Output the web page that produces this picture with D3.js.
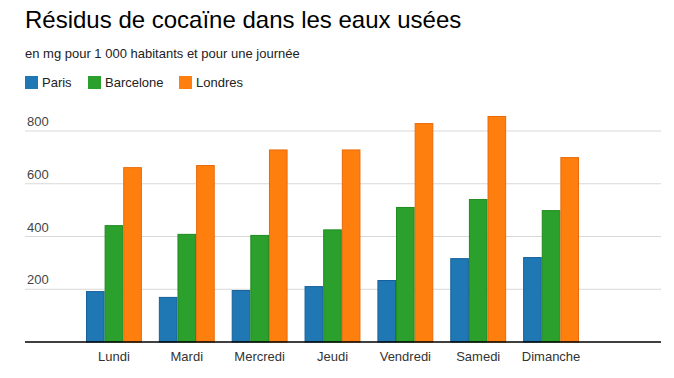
<!DOCTYPE html>
<html>
<head>
<meta charset="utf-8">
<script src="https://cdn.jsdelivr.net/npm/d3@7"></script>
<style>
  body { margin: 0; background: #fff; }
  text { font-family: Arial, "Liberation Sans", sans-serif; }
</style>
</head>
<body>
<div id="chart"></div>
<script>
// data
const days = ['Lundi', 'Mardi', 'Mercredi', 'Jeudi', 'Vendredi', 'Samedi', 'Dimanche'];
const cities = ['Paris', 'Barcelone', 'Londres'];
const paris = [193, 171, 197, 212, 235, 318, 322];
const barcelone = [443, 410, 406, 427, 512, 542, 500];
const londres = [663, 671, 730, 730, 830, 857, 701];
const yTicks = [200, 400, 600, 800];

const colors = ['#1f77b4', '#2ca02c', '#ff7f0e'];
const strokes = ['#16609a', '#1f8a1f', '#e8690a'];
const series = [paris, barcelone, londres];

const W = 674, H = 378;
const svg = d3.select('#chart').append('svg')
  .attr('width', W)
  .attr('height', H);

svg.append('text')
  .attr('x', 25).attr('y', 28)
  .attr('font-size', 24)
  .attr('fill', '#000')
  .text('Résidus de cocaïne dans les eaux usées');

svg.append('text')
  .attr('x', 25).attr('y', 58)
  .attr('font-size', 13)
  .attr('fill', '#222')
  .text('en mg pour 1 000 habitants et pour une journée');

// legend
const legendX = [25, 88, 179];
const lg = svg.selectAll('g.legend')
  .data(cities)
  .enter()
  .append('g')
  .attr('class', 'legend')
  .attr('transform', (d, i) => `translate(${legendX[i]}, 76)`);
lg.append('rect')
  .attr('width', 13).attr('height', 13)
  .attr('fill', (d, i) => colors[i]);
lg.append('text')
  .attr('x', 17).attr('y', 11)
  .attr('font-size', 13)
  .attr('fill', '#222')
  .text(d => d);

const plot = {left: 25, right: 661, top: 131, bottom: 342};
const y = d3.scaleLinear().domain([0, 800]).range([plot.bottom, plot.top]);
const x0 = d3.scaleBand().domain(days).range([77.5, 587.5]).paddingInner(0.233).paddingOuter(0.1165);
const x1 = d3.scaleBand().domain(d3.range(3)).range([0, x0.bandwidth()]);

const g = svg.append('g');

// gridlines + tick labels
g.selectAll('line.grid')
  .data(yTicks)
  .enter()
  .append('line')
  .attr('class', 'grid')
  .attr('x1', plot.left).attr('x2', plot.right)
  .attr('y1', d => y(d)).attr('y2', d => y(d))
  .attr('stroke', '#d8d8d8')
  .attr('stroke-width', 1);
g.selectAll('text.ytick')
  .data(yTicks)
  .enter()
  .append('text')
  .attr('class', 'ytick')
  .attr('x', 27)
  .attr('y', d => y(d) - 5)
  .attr('font-size', 13)
  .attr('fill', '#444')
  .text(d => d);

// bars
const groups = g.selectAll('g.day')
  .data(days)
  .enter()
  .append('g')
  .attr('class', 'day')
  .attr('transform', d => `translate(${x0(d)}, 0)`);
groups.selectAll('rect')
  .data((d, i) => series.map((s, k) => ({k, v: s[i]})))
  .enter()
  .append('rect')
  .attr('x', d => x1(d.k) + 0.5)
  .attr('y', d => y(d.v) + 0.5)
  .attr('width', x1.bandwidth() - 1)
  .attr('height', d => plot.bottom - y(d.v) - 0.5)
  .attr('fill', d => colors[d.k])
  .attr('stroke', d => strokes[d.k])
  .attr('stroke-width', 1);

// baseline
g.append('line')
  .attr('x1', plot.left).attr('x2', plot.right)
  .attr('y1', plot.bottom).attr('y2', plot.bottom)
  .attr('stroke', '#000')
  .attr('stroke-width', 1.5);

// x labels
g.selectAll('text.xtick')
  .data(days)
  .enter()
  .append('text')
  .attr('class', 'xtick')
  .attr('x', d => x0(d) + x0.bandwidth() / 2)
  .attr('y', 361)
  .attr('text-anchor', 'middle')
  .attr('font-size', 13)
  .attr('fill', '#333')
  .text(d => d);
</script>
</body>
</html>
